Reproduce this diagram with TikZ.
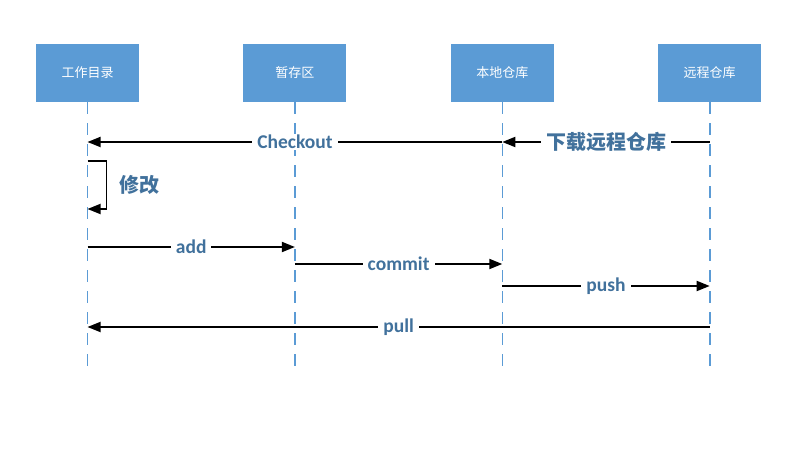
\documentclass[tikz,border=0pt]{standalone}
\usepackage{fontspec}
\setmainfont{Carlito}
\newfontfamily\cjk{Noto Sans CJK SC}
\usetikzlibrary{positioning, arrows.meta}
\definecolor{boxblue}{HTML}{5B9BD5}
\definecolor{lineblue}{HTML}{5B9BD5}
\definecolor{labelblue}{HTML}{41719C}

\begin{document}
\begin{tikzpicture}[
  x=1pt, y=-1pt,
  node distance=104pt,
  box/.style={rectangle, fill=boxblue, minimum width=103pt, minimum height=58pt, text=white, font=\cjk\fontsize{13}{15}\selectfont},
  lifeline/.style={draw=lineblue, line width=1.6pt, dash pattern=on 12pt off 9pt},
  arrow/.style={line width=1.8pt, -{Triangle[length=13pt,width=10pt]}},
  lbl/.style={fill=white, text=labelblue, inner xsep=5pt, inner ysep=1pt, font=\bfseries\fontsize{19.5}{21}\selectfont},
  cnlbl/.style={lbl, font=\cjk\bfseries\fontsize{20}{22}\selectfont}
]
\useasboundingbox (0,0) rectangle (806,449);

\node (wd) [box] at (87.5,73) {工作目录};
\node (stage) [box, right=of wd] {暂存区};
\node (local) [box, right=of stage] {本地仓库};
\node (remote) [box, right=of local] {远程仓库};

% lifelines
\foreach \n in {wd, stage, local, remote}
  \draw [lifeline] (\n.south) -- (\n.south |- 0,370);

% message points
\coordinate (wd-co) at (wd |- 0,142);
\coordinate (local-co) at (local |- 0,142);
\coordinate (remote-co) at (remote |- 0,142);
\coordinate (wd-m1) at (wd |- 0,161);
\coordinate (wd-m2) at (wd |- 0,209);
\coordinate (wd-add) at (wd |- 0,247);
\coordinate (stage-add) at (stage |- 0,247);
\coordinate (stage-ci) at (stage |- 0,264);
\coordinate (local-ci) at (local |- 0,264);
\coordinate (local-ps) at (local |- 0,286);
\coordinate (remote-ps) at (remote |- 0,286);
\coordinate (remote-pl) at (remote |- 0,327);
\coordinate (wd-pl) at (wd |- 0,327);

\draw [arrow] (remote-co) -- node[cnlbl]{下载远程仓库} (local-co);
\draw [arrow] (local-co) -- node[lbl]{Checkout} (wd-co);
\draw [arrow] (wd-m1) -- ++(19,0) |- node[pos=0.25, right=7pt, cnlbl, fill=none]{修改} (wd-m2);
\draw [arrow] (wd-add) -- node[lbl]{add} (stage-add);
\draw [arrow] (stage-ci) -- node[lbl]{commit} (local-ci);
\draw [arrow] (local-ps) -- node[lbl]{push} (remote-ps);
\draw [arrow] (remote-pl) -- node[lbl]{pull} (wd-pl);
\end{tikzpicture}
\end{document}
